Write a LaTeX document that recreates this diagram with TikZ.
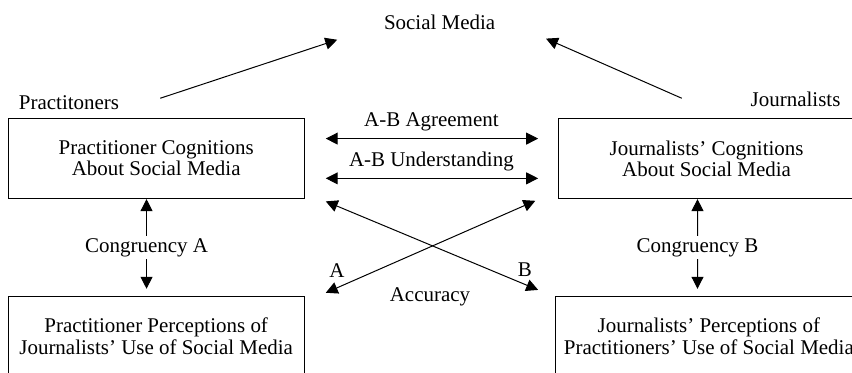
\documentclass[tikz,border=0pt]{standalone}
\usepackage{fontspec}
\setmainfont{Liberation Serif}
\usetikzlibrary{calc,arrows.meta}
\tikzset{box/.style={draw,line width=0.6pt,minimum width=5.21cm,minimum height=1.41cm,
align=center,font=\fontsize{10.5}{9.2}\selectfont},
lbl/.style={font=\fontsize{10.5}{9.2}\selectfont},
link/.style={line width=0.5pt,{Triangle[length=2.1mm,width=2.1mm]}-{Triangle[length=2.1mm,width=2.1mm]}},
arr/.style={line width=0.5pt,-{Triangle[length=2.1mm,width=2.1mm]}}}

\begin{document}
\begin{tikzpicture}
\useasboundingbox (0,0) rectangle (15,6.55);
\clip (0,0) rectangle (15,6.55);
\node[lbl] (sm) at (7.74,6.15) {Social Media};
\node[lbl,anchor=west] (pr) at (0.21,4.75) {Practitoners};
\node[lbl,anchor=east] (jo) at (14.92,4.8) {Journalists};
\node[box] (pc) at (2.75,3.76) {Practitioner Cognitions\\About Social Media};
\node[box] (pp) at (2.75,0.63) {Practitioner Perceptions of\\Journalists' Use of Social Media};
\node[box] (jc) at (12.44,3.76) {Journalists' Cognitions\\About Social Media};
\node[box,minimum width=5.39cm] (jp) at (12.48,0.63) {Journalists' Perceptions of\\Practitioners' Use of Social Media};
% to social media
\draw[arr] ($(pr.east)+(0.6,0.07)$) -- ($(sm.west)+(-0.7,-0.3)$);
\draw[arr] ($(jo.west)+(-1.09,0.02)$) -- ($(sm.east)+(0.77,-0.28)$);
% agreement, understanding
\draw[link,shorten <=0.37cm,shorten >=0.35cm] ([yshift=0.35cm]pc.east) --
node[lbl,above=0pt]{A-B Agreement} ([yshift=0.35cm]jc.west);
\draw[link,shorten <=0.37cm,shorten >=0.35cm] ([yshift=-0.35cm]pc.east) --
node[lbl,above=0pt]{A-B Understanding} ([yshift=-0.35cm]jc.west);
% congruency
\draw[link,shorten >=0.12cm] ([xshift=-0.17cm]pc.south) --
node[lbl,fill=white,inner sep=1pt]{Congruency A} ([xshift=-0.17cm]pp.north);
\draw[link,shorten >=0.12cm] ([xshift=-0.16cm]jc.south) --
node[lbl,fill=white,inner sep=1pt]{Congruency B} ([xshift=-0.2cm]jp.north);
% accuracy
\draw[link] ($(pc.south east)+(0.37,-0.04)$) -- ($(jp.north west)+(-0.3,0.1)$);
\draw[link] ($(pp.north east)+(0.37,0.05)$) -- ($(jc.south west)+(-0.4,-0.03)$);
\node[lbl] (acc) at (7.57,1.32) {Accuracy};
\node[lbl] (aa) at (5.93,1.78) {A};
\node[lbl] (bb) at (9.24,1.80) {B};
\end{tikzpicture}
\end{document}
